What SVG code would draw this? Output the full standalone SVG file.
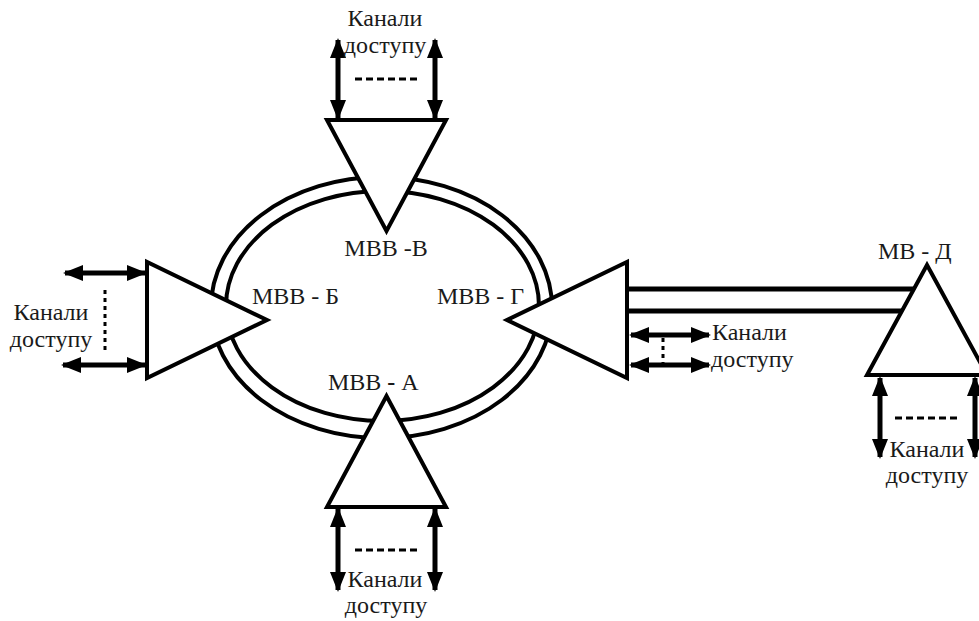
<svg xmlns="http://www.w3.org/2000/svg" width="979" height="621" viewBox="0 0 979 621">
  <style>
    .ring { fill: none; stroke: #000; stroke-width: 4; }
    .node { fill: #fff; stroke: #000; stroke-width: 4; stroke-linejoin: miter; }
    .trunk { stroke: #000; stroke-width: 5; }
    .link { stroke: #000; stroke-width: 5; marker-start: url(#head); marker-end: url(#head); }
    .dots { stroke: #000; stroke-width: 3; fill: none; stroke-dasharray: 7 4; }
    .vdots { stroke: #000; stroke-width: 3; fill: none; stroke-dasharray: 4 4; }
    .lbl { font-family: "Liberation Serif", "DejaVu Serif", serif; font-size: 24px; fill: #1a1a1a; }
  </style>
  <defs>
    <marker id="head" viewBox="0 0 20 16" refX="18" refY="8" markerWidth="20" markerHeight="16" markerUnits="userSpaceOnUse" orient="auto-start-reverse">
      <path d="M0,0 L20,8 L0,16 Z" fill="#000"/>
    </marker>
  </defs>
  <rect width="979" height="621" fill="#fff"/>

  <!-- double ring between the core nodes, plus the trunk to МВ-Д -->
  <g id="connectors">
    <ellipse class="ring" cx="381.5" cy="307.5" rx="170.5" ry="130.5"/>
    <ellipse class="ring" cx="382.5" cy="306" rx="156.5" ry="115"/>
    <line class="trunk" x1="627" y1="289" x2="930" y2="289"/>
    <line class="trunk" x1="627" y1="311" x2="930" y2="311"/>
  </g>

  <!-- МВВ-В (top) -->
  <g id="node-v">
    <line class="link" x1="338" y1="40" x2="338" y2="118"/>
    <line class="link" x1="435" y1="40" x2="435" y2="118"/>
    <line class="dots" x1="355" y1="79" x2="419" y2="79"/>
    <text class="lbl" x="385" y="26" text-anchor="middle">Канали</text>
    <text class="lbl" x="385" y="53" text-anchor="middle">доступу</text>
    <polygon class="node" points="327,120 446,120 386.5,231"/>
    <text class="lbl" x="386" y="256" text-anchor="middle">МВВ -В</text>
  </g>

  <!-- МВВ-Б (left) -->
  <g id="node-b">
    <line class="link" x1="65" y1="273" x2="145" y2="273"/>
    <line class="link" x1="63" y1="365" x2="145" y2="365"/>
    <line class="vdots" x1="105" y1="290" x2="105" y2="350"/>
    <text class="lbl" x="51" y="320" text-anchor="middle">Канали</text>
    <text class="lbl" x="51" y="347" text-anchor="middle">доступу</text>
    <polygon class="node" points="147,262 147,378 267,320"/>
    <text class="lbl" x="252" y="304">МВВ - Б</text>
  </g>

  <!-- МВВ-Г (right) -->
  <g id="node-g">
    <line class="link" x1="631" y1="335" x2="709" y2="335"/>
    <line class="link" x1="631" y1="365" x2="709" y2="365"/>
    <line class="vdots" x1="663" y1="338" x2="663" y2="364" stroke-dasharray="3 3"/>
    <text class="lbl" x="712" y="340">Канали</text>
    <text class="lbl" x="711" y="367">доступу</text>
    <polygon class="node" points="627,262 627,378 507,320"/>
    <text class="lbl" x="437" y="304">МВВ - Г</text>
  </g>

  <!-- МВВ-А (bottom) -->
  <g id="node-a">
    <line class="link" x1="338" y1="509" x2="338" y2="590"/>
    <line class="link" x1="435" y1="509" x2="435" y2="590"/>
    <line class="dots" x1="355" y1="550" x2="419" y2="550"/>
    <text class="lbl" x="385" y="587" text-anchor="middle">Канали</text>
    <text class="lbl" x="386" y="613" text-anchor="middle">доступу</text>
    <polygon class="node" points="386.5,396 327,507 446,507"/>
    <text class="lbl" x="328" y="390">МВВ<tspan font-weight="bold"> - </tspan>А</text>
  </g>

  <!-- МВ-Д (remote) -->
  <g id="node-d">
    <line class="link" x1="880" y1="378" x2="880" y2="457"/>
    <line class="link" x1="975" y1="378" x2="975" y2="457"/>
    <line class="dots" x1="895" y1="418" x2="958" y2="418"/>
    <text class="lbl" x="927" y="457" text-anchor="middle">Канали</text>
    <text class="lbl" x="927" y="483" text-anchor="middle">доступу</text>
    <polygon class="node" points="927,265 867,375 987,375"/>
    <text class="lbl" x="878" y="259">МВ - Д</text>
  </g>
</svg>
